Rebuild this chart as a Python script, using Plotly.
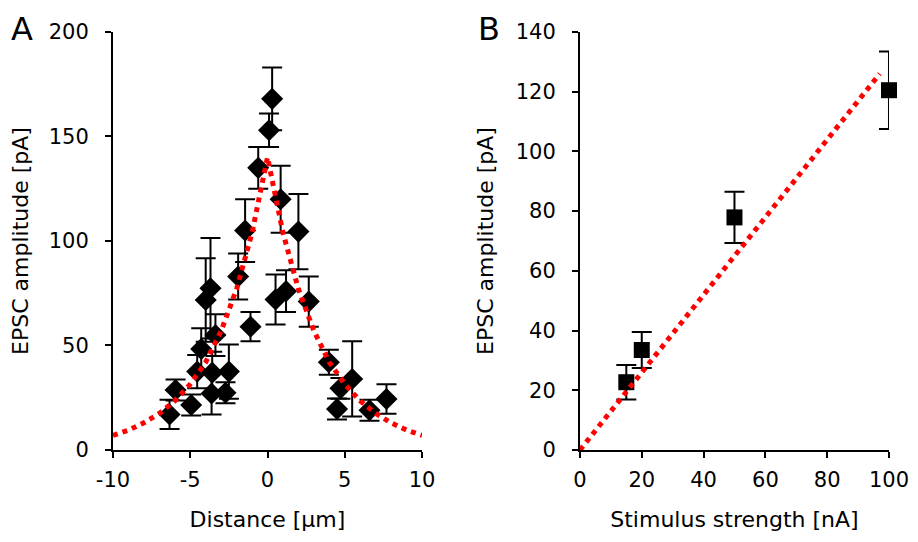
import plotly.graph_objects as go
from plotly.subplots import make_subplots

# Panel A: EPSC amplitude vs distance
dist_x = [0.3, 0.1, -0.6, 0.85, 2.0, -1.45, -1.9, -1.1, 0.52, 1.2, 2.67,
          3.97, 5.48, 4.72, 4.5, 6.6, 7.7,
          -3.69, -4.0, -3.37, -4.29, -4.55, -3.58, -2.5, -3.62, -2.72,
          -5.95, -4.94, -6.34]
dist_y = [168, 153, 135, 120, 104.5, 105, 83, 59, 72, 76, 71,
          42, 34, 29.5, 19.6, 19, 24.4,
          77.4, 71.8, 55, 48.3, 37.5, 37, 37.5, 27, 27.4,
          28.7, 21.5, 17]
dist_err = [15, 8, 10, 16, 18, 15, 11, 7, 12, 10, 12,
            6, 18, 5, 5, 5, 7,
            24, 20, 10, 10, 8, 10, 13, 10, 5,
            5, 5, 7]

fit_a_x = [-10, -9, -8, -7, -6, -5, -4, -3, -2, -1, 0,
           1, 2, 3, 4, 5, 6, 7, 8, 9, 10]
fit_a_y = [7, 9.5, 13, 17.5, 23.5, 31.5, 42, 57, 77, 104, 140,
           104, 77, 57, 42, 31.5, 23.5, 17.5, 13, 9.5, 7]

a_xticks = [-10, -5, 0, 5, 10]
a_xlabels = ["-10", "-5", "0", "5", "10"]

# Panel B: EPSC amplitude vs stimulus strength
stim_x = [15, 20, 50, 100]
stim_y = [22.7, 33.5, 77.9, 120.5]
stim_err = [5.8, 6, 8.6, 13]

fit_b_x = [0, 97]
fit_b_y = [0, 126]

font = "DejaVu Sans, Arial, sans-serif"

fig = make_subplots(rows=1, cols=2)

fig.add_trace(go.Scatter(
    x=dist_x, y=dist_y, mode="markers",
    marker=dict(symbol="diamond", size=17, color="black"),
    error_y=dict(type="data", array=dist_err, color="black", thickness=2, width=10),
    cliponaxis=False, showlegend=False), row=1, col=1)
fig.add_trace(go.Scatter(
    x=fit_a_x, y=fit_a_y, mode="lines",
    line=dict(color="#ff0000", width=5, dash="5px,5px"),
    cliponaxis=False, showlegend=False), row=1, col=1)

fig.add_trace(go.Scatter(
    x=stim_x, y=stim_y, mode="markers",
    marker=dict(symbol="square", size=16, color="black"),
    error_y=dict(type="data", array=stim_err, color="black", thickness=2, width=10),
    cliponaxis=False, showlegend=False), row=1, col=2)
fig.add_trace(go.Scatter(
    x=fit_b_x, y=fit_b_y, mode="lines",
    line=dict(color="#ff0000", width=5, dash="5px,5px"),
    cliponaxis=False, showlegend=False), row=1, col=2)

axis_common = dict(showline=True, linecolor="black", linewidth=2,
                   ticks="outside", ticklen=6, tickwidth=2, tickcolor="black",
                   showgrid=False, zeroline=False, automargin=False,
                   ticklabeloverflow="allow",
                   tickfont=dict(family=font, size=21, color="black"),
                   title_font=dict(family=font, size=22, color="black"))

fig.update_xaxes(axis_common)
fig.update_yaxes(axis_common)
fig.update_xaxes(ticklabelstandoff=4, title_standoff=20)
fig.update_yaxes(ticklabelstandoff=12, title_standoff=16)

# the page body adds an 8px margin, so the figure is sized to fit the window
fig.update_xaxes(range=[-10, 10], tickvals=a_xticks, ticktext=a_xlabels,
                 domain=[0.1164, 0.459],
                 title_text="Distance [µm]", row=1, col=1)
fig.update_yaxes(range=[0, 200], dtick=50, domain=[0.1597, 0.9544],
                 title_text="EPSC amplitude [pA]", row=1, col=1)
fig.update_xaxes(range=[0, 100], dtick=20, domain=[0.6341, 0.9767],
                 title_text="Stimulus strength [nA]", row=1, col=2)
fig.update_yaxes(range=[0, 140], dtick=20, domain=[0.1597, 0.9544],
                 title_text="EPSC amplitude [pA]", row=1, col=2)

fig.add_annotation(text="A", x=0.0155, y=1.0, xref="paper", yref="paper",
                   xanchor="center", yanchor="top",
                   showarrow=False, font=dict(family=font, size=32, color="black"))
fig.add_annotation(text="B", x=0.533, y=1.0, xref="paper", yref="paper",
                   xanchor="center", yanchor="top",
                   showarrow=False, font=dict(family=font, size=32, color="black"))

fig.update_layout(width=902, height=526, paper_bgcolor="white", plot_bgcolor="white",
                  margin=dict(l=0, r=0, t=0, b=0))

fig.write_html("out.html")
